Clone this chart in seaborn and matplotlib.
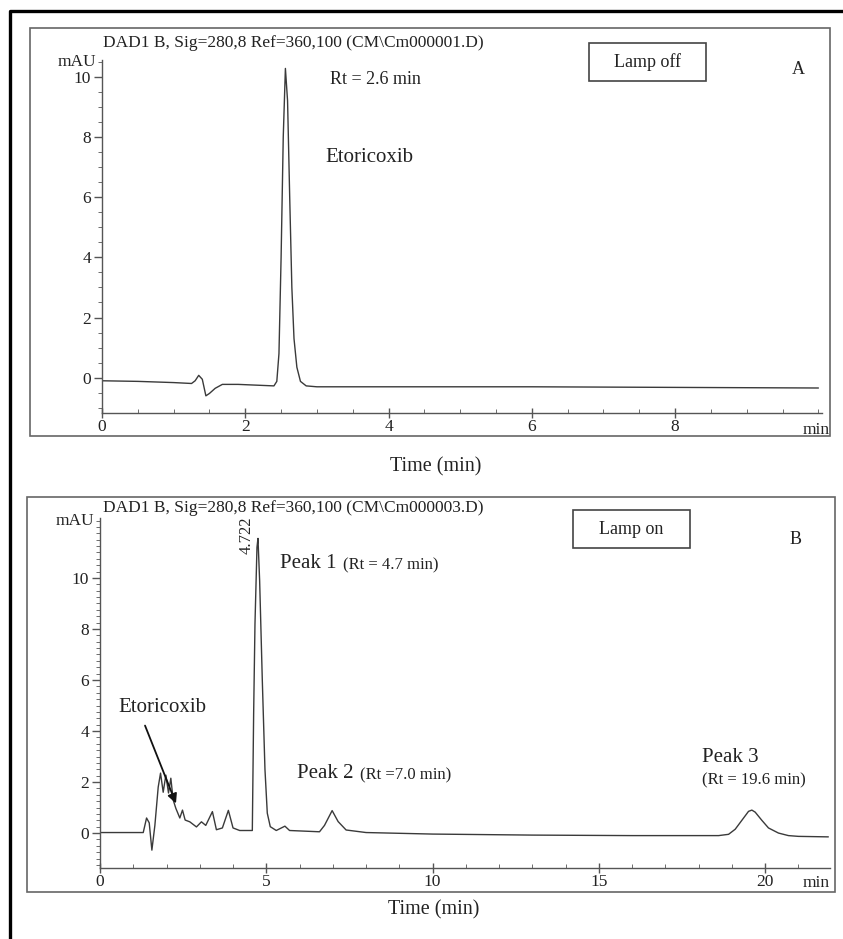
import numpy as np
import pandas as pd
import seaborn as sns
import matplotlib.pyplot as plt
from matplotlib.patches import Rectangle, FancyArrowPatch
from matplotlib.lines import Line2D
from matplotlib.ticker import MultipleLocator

W, H = 843, 939

# panel A: lamp off (time in min, signal in mAU)
time_a = [0.0, 0.5, 1.0, 1.25, 1.30, 1.35, 1.40, 1.45, 1.50, 1.58, 1.68, 1.9, 2.2, 2.40,
          2.44, 2.47, 2.50, 2.53, 2.56, 2.59, 2.62, 2.65, 2.68, 2.72, 2.77, 2.85, 3.0,
          4.0, 6.0, 8.0, 10.0]
signal_a = [-0.10, -0.12, -0.16, -0.19, -0.10, 0.08, -0.05, -0.60, -0.52, -0.35, -0.22,
            -0.22, -0.25, -0.27, -0.12, 0.8, 4.0, 8.0, 10.27, 9.2, 6.0, 3.0, 1.3, 0.35,
            -0.12, -0.27, -0.30, -0.30, -0.30, -0.32, -0.34]
xticks_a = [0, 2, 4, 6, 8]
yticks_a = [0, 2, 4, 6, 8, 10]

# panel B: lamp on
time_b = [0.0, 1.3, 1.40, 1.48, 1.56, 1.65, 1.75, 1.82, 1.90, 1.98, 2.06, 2.13, 2.20,
          2.28, 2.40, 2.48, 2.56, 2.70, 2.90, 3.05, 3.18, 3.38, 3.50, 3.68, 3.86, 4.00,
          4.20, 4.55, 4.58, 4.62, 4.66, 4.72, 4.75, 4.80, 4.88, 4.96, 5.03, 5.12, 5.30,
          5.56, 5.70, 6.6, 6.75, 6.98, 7.16, 7.40, 8.0, 10.0, 13.0, 16.0, 18.6, 18.9,
          19.1, 19.3, 19.5, 19.6, 19.7, 19.9, 20.1, 20.4, 20.7, 21.0, 21.9]
signal_b = [0.02, 0.02, 0.59, 0.40, -0.67, 0.30, 1.80, 2.35, 1.60, 2.27, 1.57, 2.15, 1.30,
            0.97, 0.59, 0.90, 0.51, 0.44, 0.24, 0.44, 0.30, 0.84, 0.13, 0.20, 0.89, 0.20,
            0.10, 0.10, 0.10, 4.70, 8.20, 11.20, 11.55, 9.90, 6.00, 2.50, 0.78, 0.25, 0.10,
            0.27, 0.10, 0.05, 0.30, 0.88, 0.45, 0.12, 0.02, -0.04, -0.08, -0.10, -0.10,
            -0.05, 0.15, 0.50, 0.85, 0.90, 0.82, 0.50, 0.20, 0.00, -0.10, -0.13, -0.15]
xticks_b = [0, 5, 10, 15, 20]
yticks_b = [0, 2, 4, 6, 8, 10]

df_a = pd.DataFrame({'time': time_a, 'mAU': signal_a})
df_b = pd.DataFrame({'time': time_b, 'mAU': signal_b})

sns.set_style('ticks')
plt.rcParams['font.family'] = ['Liberation Serif', 'DejaVu Serif']

fig = plt.figure(figsize=(W / 100, H / 100), dpi=100)
LINE = '#3a3a3a'
AX = '#555555'


def fx(x):
    return x / W


def fy(y):
    return 1 - y / H


def ftext(x, y, s, **kw):
    kw.setdefault('color', '#222222')
    fig.text(fx(x), fy(y), s, **kw)


def style_axes(ax, xticks, yticks, xmin, ymin):
    sns.despine(ax=ax)
    for sp in ['left', 'bottom']:
        ax.spines[sp].set_color(AX)
        ax.spines[sp].set_linewidth(1.0)
    ax.set_xticks(xticks)
    ax.set_yticks(yticks)
    ax.xaxis.set_minor_locator(MultipleLocator(xmin))
    ax.yaxis.set_minor_locator(MultipleLocator(ymin))
    ax.tick_params(axis='both', which='major', colors=AX, labelcolor='#222222',
                   labelsize=12.5, width=1.0)
    ax.tick_params(axis='y', which='major', direction='out', length=6, pad=2)
    ax.tick_params(axis='y', which='minor', direction='out', length=3, color=AX)
    ax.tick_params(axis='x', which='major', direction='inout', length=7, pad=1)
    ax.tick_params(axis='x', which='minor', direction='in', length=3, color=AX)
    ax.set_xlabel('')
    ax.set_ylabel('')
    ax.patch.set_alpha(0)


# outer black frame (left and top)
fig.add_artist(Line2D([fx(10), fx(10), 1], [0, fy(11), fy(11)], color='black', lw=2.4))

# panel boxes
fig.add_artist(Rectangle((fx(30), fy(436)), fx(830) - fx(30), fy(28) - fy(436),
                         fill=False, ec='#666666', lw=1.2))
fig.add_artist(Rectangle((fx(27), fy(892)), fx(835) - fx(27), fy(497) - fy(892),
                         fill=False, ec='#666666', lw=1.2))

# ---- panel A ----
ax1 = fig.add_axes([fx(102), fy(413), fx(822) - fx(102), fy(60) - fy(413)])
sns.lineplot(data=df_a, x='time', y='mAU', ax=ax1, color=LINE, lw=1.0,
             estimator=None, sort=False)
ax1.set_xlim(0, 10.05)
ax1.set_ylim(-1.17, 10.55)
style_axes(ax1, xticks_a, yticks_a, 0.5, 0.5)

ftext(103, 43, r'DAD1 B, Sig=280,8 Ref=360,100 (CM\Cm000001.D)', fontsize=12.5, va='center')
ftext(96, 62, 'mAU', fontsize=12.5, ha='right', va='center')
ftext(816, 430, 'min', fontsize=12.5, ha='center', va='center')
ftext(330, 80, 'Rt = 2.6 min', fontsize=13, va='center')
ftext(325, 157, 'Etoricoxib', fontsize=15, va='center')
fig.add_artist(Rectangle((fx(589), fy(81)), fx(706) - fx(589), fy(43) - fy(81),
                         fill=False, ec='#444444', lw=1.2))
ftext(647, 62, 'Lamp off', fontsize=13, ha='center', va='center')
ftext(798, 70, 'A', fontsize=13, ha='center', va='center')
ftext(436, 467, 'Time (min)', fontsize=14.5, ha='center', va='center')

# ---- panel B ----
ax2 = fig.add_axes([fx(100), fy(868), fx(830) - fx(100), fy(518) - fy(868)])
sns.lineplot(data=df_b, x='time', y='mAU', ax=ax2, color=LINE, lw=1.0,
             estimator=None, sort=False)
ax2.set_xlim(0, 21.95)
ax2.set_ylim(-1.37, 12.35)
style_axes(ax2, xticks_b, yticks_b, 1, 0.25)

ftext(103, 508, r'DAD1 B, Sig=280,8 Ref=360,100 (CM\Cm000003.D)', fontsize=12.5, va='center')
ftext(94, 521, 'mAU', fontsize=12.5, ha='right', va='center')
ftext(816, 883, 'min', fontsize=12.5, ha='center', va='center')
ftext(247, 535, '4.722', fontsize=12, rotation=90, ha='center', va='center')
ftext(280, 563, 'Peak 1', fontsize=15, va='center')
ftext(343, 565, '(Rt = 4.7 min)', fontsize=12, va='center')
ftext(297, 773, 'Peak 2', fontsize=15, va='center')
ftext(360, 775, '(Rt =7.0 min)', fontsize=12, va='center')
ftext(702, 757, 'Peak 3', fontsize=15, va='center')
ftext(702, 780, '(Rt = 19.6 min)', fontsize=12, va='center')
ftext(118, 707, 'Etoricoxib', fontsize=15, va='center')
fig.add_artist(FancyArrowPatch(
    (fx(144), fy(723)), (fx(177), fy(806)), transform=fig.transFigure,
    arrowstyle='-|>', mutation_scale=14, color='#111111', lw=1.3))
fig.add_artist(Rectangle((fx(573), fy(548)), fx(690) - fx(573), fy(510) - fy(548),
                         fill=False, ec='#444444', lw=1.2))
ftext(631, 529, 'Lamp on', fontsize=13, ha='center', va='center')
ftext(796, 540, 'B', fontsize=13, ha='center', va='center')
ftext(434, 910, 'Time (min)', fontsize=14.5, ha='center', va='center')

plt.savefig('out.png', dpi=100)
